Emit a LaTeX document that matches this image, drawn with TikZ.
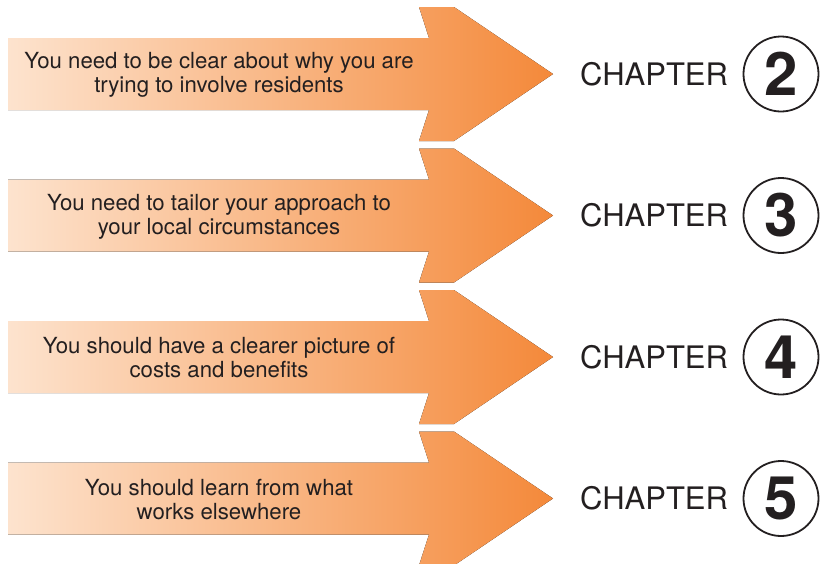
\documentclass[tikz,border=0pt]{standalone}
\usepackage{fontspec}
\setmainfont{TeX Gyre Heros}
\definecolor{peach}{RGB}{253,227,206}
\definecolor{tangerine}{RGB}{244,137,58}
\definecolor{ink}{RGB}{35,31,32}
\begin{document}
\begin{tikzpicture}[x=1pt, y=-1pt,
  arrowfill/.style={left color=peach, right color=tangerine, draw=none},
  say/.style={align=center, text=ink, inner sep=0pt, font=\fontsize{22.2}{24}\selectfont},
  chap/.style={anchor=west, text=ink, inner sep=0pt, font=\fontsize{31}{31}\selectfont},
  num/.style={circle, draw=ink, line width=1.8pt, minimum size=75pt, inner sep=0pt, text=ink, font=\fontsize{60}{60}\selectfont\bfseries}]
\useasboundingbox (0,0) rectangle (823,563);
% arrow 1
\fill[arrowfill, shift={(0,74)}] (8,-36) -- (429,-36) -- (419,-67) -- (454,-67) -- (553,0)
  -- (454,67) -- (419,67) -- (429,36) -- (8,36) -- cycle;
\node[say] (T_2) at (219,75) {You need to be clear about why you are\\trying to involve residents};
\node[chap] (C_2) at (580,74) {CHAPTER};
\node[num] (N_2) at (781,74) {2};
% arrow 2
\fill[arrowfill, shift={(0,215.5)}] (8,-36) -- (429,-36) -- (419,-67) -- (454,-67) -- (553,0)
  -- (454,67) -- (419,67) -- (429,36) -- (8,36) -- cycle;
\node[say] (T_3) at (219,216.5) {You need to tailor your approach to\\your local circumstances};
\node[chap] (C_3) at (580,215.5) {CHAPTER};
\node[num] (N_3) at (781,215.5) {3};
% arrow 3
\fill[arrowfill, shift={(0,357)}] (8,-36) -- (429,-36) -- (419,-67) -- (454,-67) -- (553,0)
  -- (454,67) -- (419,67) -- (429,36) -- (8,36) -- cycle;
\node[say] (T_4) at (219,358) {You should have a clearer picture of\\costs and benefits};
\node[chap] (C_4) at (580,357) {CHAPTER};
\node[num] (N_4) at (781,357) {4};
% arrow 4
\fill[arrowfill, shift={(0,498.5)}] (8,-36) -- (429,-36) -- (419,-67) -- (454,-67) -- (553,0)
  -- (454,67) -- (419,67) -- (429,36) -- (8,36) -- cycle;
\node[say] (T_5) at (219,499.5) {You should learn from what\\works elsewhere};
\node[chap] (C_5) at (580,498.5) {CHAPTER};
\node[num] (N_5) at (781,498.5) {5};
\end{tikzpicture}
\end{document}
